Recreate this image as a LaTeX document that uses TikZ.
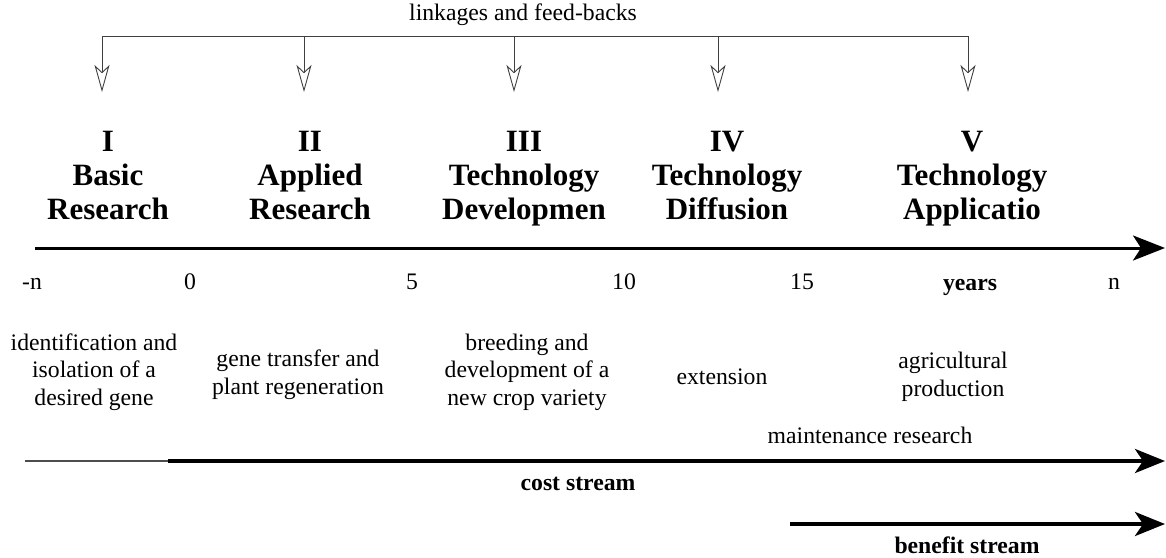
\documentclass[tikz,border=0pt]{standalone}
\usepackage{fontspec}
\setmainfont{Liberation Serif}
\usetikzlibrary{arrows.meta}
\begin{document}
\begin{tikzpicture}[x=1pt,y=-1pt,
  txt/.style={inner sep=0pt,anchor=base,align=center,font=\fontsize{23.7}{27.5}\selectfont},
  btxt/.style={inner sep=0pt,anchor=base,align=center,font=\fontsize{23.7}{27.5}\selectfont\bfseries},
  phase/.style={inner sep=0pt,anchor=base,align=center,font=\fontsize{31}{34}\selectfont\bfseries},
  link/.style={draw=black!75,line width=0.9pt},
  drop/.style={link,-{Stealth[open,length=27pt,width=15pt,inset=7pt,fill=white]}},
  axis/.style={line width=3pt,-{Stealth[length=32pt,width=25pt,inset=8pt]}},
  stream/.style={line width=4pt,-{Stealth[length=30pt,width=24pt,inset=8pt]}}]
\useasboundingbox (0,0) rectangle (1166,557);

% feedback bar with arrows down to each phase
\node[txt] (lk) at (523,20) {linkages and feed-backs};
\foreach \i/\x in {1/102,2/304,3/514,4/718,5/968}{
  \coordinate (t\i) at (\x,36);
  \coordinate (a\i) at (\x,92);
}
\draw[link] (t1) -- (t5);
\foreach \i in {1,...,5}{\draw[drop] (t\i) -- (a\i);}

% phase headings (anchored at the baseline of their last line)
\node[phase] (p1) at (108,219) {I\\Basic\\Research};
\node[phase] (p2) at (310,219) {II\\Applied\\Research};
\node[phase] (p3) at (524,219) {III\\Technology\\Developmen};
\node[phase] (p4) at (727,219) {IV\\Technology\\Diffusion};
\node[phase] (p5) at (972,219) {V\\Technology\\Applicatio};

% time axis
\coordinate (ax0) at (35,248);
\coordinate (ax1) at (1165,248);
\draw[axis] (ax0) -- (ax1);
\node[txt] (tn) at (32,289) {-n};
\node[txt] (t0) at (190,289) {0};
\node[txt] (t5) at (412,289) {5};
\node[txt] (t10) at (624,289) {10};
\node[txt] (t15) at (802,289) {15};
\node[btxt] (yr) at (970,290) {years};
\node[txt] (tnn) at (1114,289) {n};

% activities in each phase
\node[txt] (d1) at (94,405) {identification and\\isolation of a\\desired gene};
\node[txt] (d2) at (298,394) {gene transfer and\\plant regeneration};
\node[txt] (d3) at (527,405) {breeding and\\development of a\\new crop variety};
\node[txt] (d4) at (722,384) {extension};
\node[txt] (d5) at (953,396) {agricultural\\production};
\node[txt] (mr) at (870,443) {maintenance research};

% cost and benefit streams
\coordinate (c0) at (25,461);
\coordinate (c1) at (168,461);
\coordinate (c2) at (1165,461);
\draw[draw=black!70,line width=1.4pt] (c0) -- (c1);
\draw[stream] (c1) -- (c2);
\node[btxt] (cs) at (578,490) {cost stream};

\coordinate (b0) at (790,524);
\coordinate (b1) at (1165,524);
\draw[stream] (b0) -- (b1);
\node[btxt] (bs) at (967,553) {benefit stream};
\end{tikzpicture}
\end{document}
